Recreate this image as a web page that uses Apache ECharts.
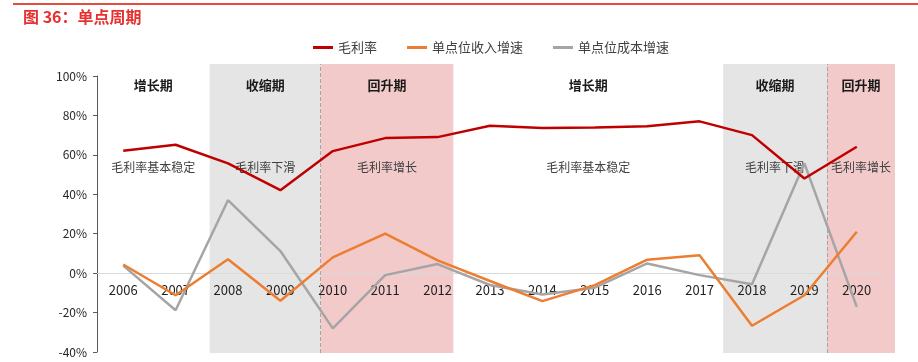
<!DOCTYPE html>
<html>
<head>
<meta charset="utf-8">
<script src="https://cdn.jsdelivr.net/npm/echarts@6/dist/echarts.min.js"></script>
<style>html,body{margin:0;padding:0;background:#fff;}#c{width:918px;height:362px;}</style>
</head>
<body>
<div id="c"></div>
<script>
const categories = ['2006','2007','2008','2009','2010','2011','2012','2013','2014','2015','2016','2017','2018','2019','2020'];
const grossMargin = [62.1, 65.1, 55.7, 42.1, 61.9, 68.5, 69.0, 74.8, 73.6, 73.9, 74.5, 77.0, 70.0, 48.0, 64.1];
const revenueGrowth = [4.4, -11.2, 7.0, -14.0, 8.0, 20.1, 6.5, -4.0, -14.2, -6.1, 6.8, 9.1, -26.7, -11.2, 21.0];
const costGrowth = [3.8, -18.8, 37.0, 11.2, -28.0, -1.0, 4.6, -6.0, -10.8, -7.4, 4.9, -1.0, -5.6, 55.7, -17.1];
const seriesNames = ['毛利率', '单点位收入增速', '单点位成本增速'];
const yTicks = [-40, -20, 0, 20, 40, 60, 80, 100];
// period bands, in category-band units (0 = left edge of 2006 band)
const periodStart = [0, 2.15, 4.27, 6.8, 11.95, 13.93];
const periodEnd = [2.15, 4.27, 6.8, 11.95, 13.93, 15.23];
const periodTitle = ['增长期', '收缩期', '回升期', '增长期', '收缩期', '回升期'];
const periodNote = ['毛利率基本稳定', '毛利率下滑', '毛利率增长', '毛利率基本稳定', '毛利率下滑', '毛利率增长'];
const periodKind = ['none', 'gray', 'pink', 'none', 'gray', 'pink'];
const dividers = [4.27, 13.93];

const kindColor = {none: 'rgba(0,0,0,0)', gray: '#e5e5e5', pink: '#f2caca'};
const FONT = '"Noto Sans CJK SC", "Noto Sans", sans-serif';

const GRID_TOP = 76, GRID_BOTTOM = 10, H = 362;
const yMin = yTicks[0], yMax = yTicks[yTicks.length - 1];
const plotH = H - GRID_TOP - GRID_BOTTOM;
const zeroOffset = -(0 - yMin) / (yMax - yMin) * plotH;

const chart = echarts.init(document.getElementById('c'));

const areaData = periodStart.map((s, i) => [
  {xAxis: s, yAxis: 0, itemStyle: {color: kindColor[periodKind[i]]},
   label: {formatter: periodTitle[i]}},
  {xAxis: periodEnd[i], yAxis: 1}
]);
const noteData = periodStart.map((s, i) => [
  {xAxis: s, yAxis: 0, label: {formatter: periodNote[i]}},
  {xAxis: periodEnd[i], yAxis: 1}
]);

chart.setOption({
  animation: false,
  backgroundColor: '#fff',
  textStyle: {fontFamily: FONT},
  title: {
    text: '图 36：单点周期',
    left: 23, top: 9, padding: 0,
    textStyle: {color: '#e8312f', fontSize: 16, fontWeight: 'bold', fontFamily: FONT}
  },
  graphic: [{
    type: 'line', shape: {x1: 13, y1: 4, x2: 918, y2: 4},
    style: {stroke: '#e84a3c', lineWidth: 2}, silent: true
  }],
  legend: {
    data: seriesNames,
    left: 313, top: 41, padding: 0,
    itemWidth: 20, itemHeight: 3, itemGap: 30,
    icon: 'rect',
    textStyle: {fontSize: 13, color: '#404040', fontFamily: FONT}
  },
  grid: [
    {left: 97, right: 35, top: GRID_TOP, bottom: GRID_BOTTOM, outerBoundsMode: 'none', containLabel: false},
    {left: 97, right: 23, top: 64, bottom: 9, outerBoundsMode: 'none', containLabel: false}
  ],
  xAxis: [
    {
      type: 'category', data: categories, gridIndex: 0, boundaryGap: true, z: 2,
      position: 'bottom', offset: zeroOffset,
      axisLine: {show: true, onZero: false, lineStyle: {color: '#d9d9d9', width: 1}},
      axisTick: {show: false},
      axisLabel: {margin: 10, fontSize: 13, color: '#1f1f1f', fontFamily: FONT},
      splitLine: {show: false}
    },
    {type: 'value', gridIndex: 1, min: 0, max: 15.23, show: false}
  ],
  yAxis: [
    {
      type: 'value', gridIndex: 0, min: yMin, max: yMax, interval: 20, z: 2,
      axisLine: {show: true, lineStyle: {color: '#595959', width: 1}},
      axisTick: {show: true, length: 4, lineStyle: {color: '#595959'}},
      axisLabel: {formatter: '{value}%', margin: 10, fontSize: 12, color: '#262626', fontFamily: FONT},
      splitLine: {show: false}
    },
    {type: 'value', gridIndex: 1, min: 0, max: 1, show: false}
  ],
  series: [
    {
      name: 'bands', type: 'line', xAxisIndex: 1, yAxisIndex: 1, data: [], z: 1, silent: true,
      markArea: {
        silent: true,
        label: {show: true, position: 'insideTop', distance: 15, fontSize: 13, fontWeight: 'bold', color: '#1a1a1a', fontFamily: FONT},
        data: areaData
      },
      markLine: {
        silent: true, symbol: 'none',
        label: {show: false},
        lineStyle: {color: '#a6a6a6', type: 'dashed', width: 1},
        data: dividers.map(d => ({xAxis: d}))
      }
    },
    {
      name: 'notes', type: 'line', xAxisIndex: 1, yAxisIndex: 1, data: [], z: 1, silent: true,
      markArea: {
        silent: true,
        itemStyle: {color: 'rgba(0,0,0,0)'},
        label: {show: true, position: 'insideTop', distance: 97, fontSize: 12, color: '#404040', fontFamily: FONT},
        data: noteData
      }
    },
    {
      name: seriesNames[0], type: 'line', data: grossMargin, symbol: 'none', z: 5,
      lineStyle: {color: '#c00000', width: 2.5}, itemStyle: {color: '#c00000'}
    },
    {
      name: seriesNames[1], type: 'line', data: revenueGrowth, symbol: 'none', z: 5,
      lineStyle: {color: '#ed7d31', width: 2.5}, itemStyle: {color: '#ed7d31'}
    },
    {
      name: seriesNames[2], type: 'line', data: costGrowth, symbol: 'none', z: 4,
      lineStyle: {color: '#a5a5a5', width: 2.5}, itemStyle: {color: '#a5a5a5'}
    }
  ]
});
</script>
</body>
</html>
